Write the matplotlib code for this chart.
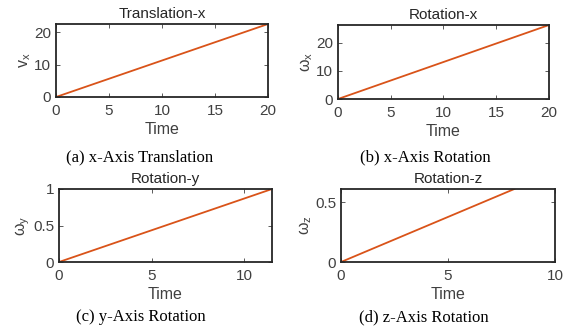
import matplotlib
matplotlib.use('Agg')
from matplotlib import pyplot as plt
import numpy as np

# Panel data (start and end points of each line)
titles = ['Translation-x', 'Rotation-x', 'Rotation-y', 'Rotation-z']
ylabels = [r'$v_x$', r'$\omega_x$', r'$\omega_y$', r'$\omega_z$']
captions = ['(a) x-Axis Translation', '(b) x-Axis Rotation',
            '(c) y-Axis Rotation', '(d) z-Axis Rotation']
time_pts = [[0, 20], [0, 20], [0, 11.5], [0, 8.1]]
value_pts = [[0, 22.5], [0, 26.4], [0, 1.0], [0, 0.61]]
xlims = [(0, 20), (0, 20), (0, 11.5), (0, 10)]
ylims = [(0, 22.5), (0, 26.4), (0, 1.0), (0, 0.61)]
xticks = [[0, 5, 10, 15, 20], [0, 5, 10, 15, 20], [0, 5, 10], [0, 5, 10]]
yticks = [[0, 10, 20], [0, 10, 20], [0, 0.5, 1], [0, 0.5]]
yticklabels = [['0', '10', '20'], ['0', '10', '20'], ['0', '0.5', '1'], ['0', '0.5']]

lineColour = '#D95319'
textColour = '#404040'

plt.rcParams['font.family'] = ['Liberation Sans', 'DejaVu Sans']
plt.rcParams['mathtext.default'] = 'regular'

W, H = 567, 331
figure = plt.figure(figsize=(W / 100, H / 100), dpi=100)

# axes boxes in pixels: left, top, right, bottom
boxes = [(56, 24, 268, 97), (338, 25, 549, 99), (59, 189, 272, 262), (341, 189, 555, 262)]
caption_pos = [(140, 157), (425, 157), (141, 317), (424, 317)]

for i in range(4):
    l, t, r, b = boxes[i]
    ax = figure.add_axes([l / W, 1 - b / H, (r - l) / W, (b - t) / H])
    ax.plot(time_pts[i], value_pts[i], color=lineColour, linewidth=1.3)
    ax.set_xlim(*xlims[i])
    ax.set_ylim(*ylims[i])
    ax.set_xticks(xticks[i])
    ax.set_yticks(yticks[i])
    ax.set_yticklabels(yticklabels[i])
    ax.tick_params(direction='in', top=True, right=True, length=3, width=0.6,
                   labelsize=11, colors=textColour, pad=3.5)
    ax.tick_params(axis='x', pad=5)
    for s in ax.spines.values():
        s.set_color('#262626')
        s.set_linewidth(1.3)
    ax.set_title(titles[i], fontsize=11, color='#262626', pad=4)
    ax.set_xlabel('Time', fontsize=11.5, color=textColour, labelpad=3)
    ax.set_ylabel(ylabels[i], fontsize=11.5, color=textColour, labelpad=1)
    cx, cy = caption_pos[i]
    figure.text(cx / W, 1 - cy / H, captions[i], ha='center', va='center',
                fontsize=12, family='Liberation Serif', color='black')

plt.savefig('out.png', dpi=100)
plt.close()
